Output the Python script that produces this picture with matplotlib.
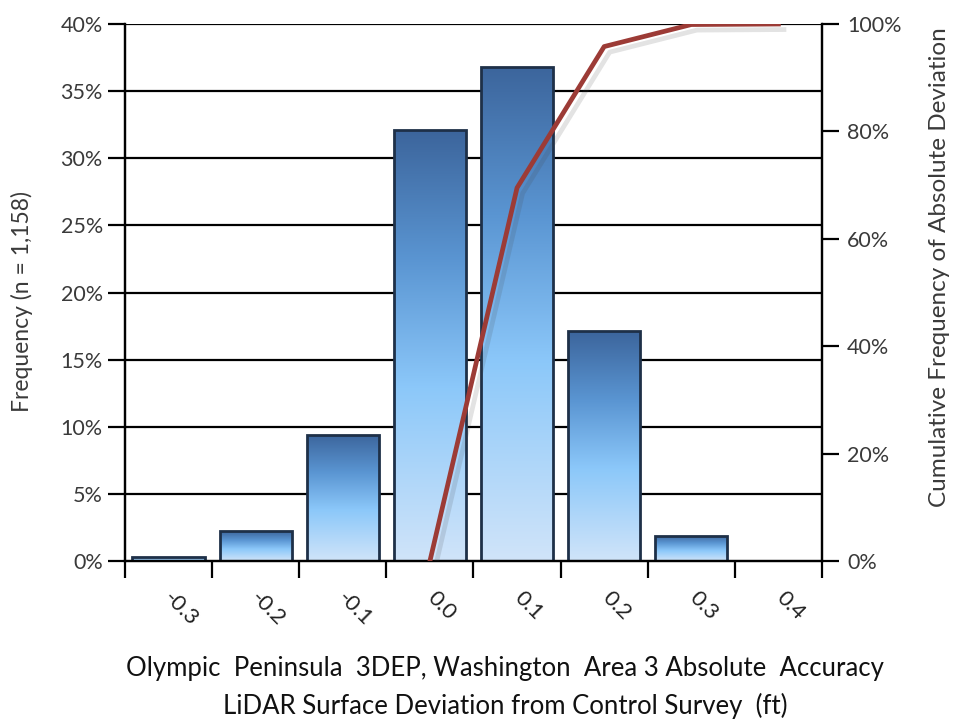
import numpy as np
import matplotlib
matplotlib.use("Agg")
import matplotlib.pyplot as plt
import matplotlib.patheffects as pe
import matplotlib.transforms as mtransforms
from matplotlib.colors import LinearSegmentedColormap
from matplotlib.ticker import FuncFormatter, MultipleLocator

plt.rcParams['font.family'] = ['Lato', 'DejaVu Sans']

# data
bins = ['-0.3', '-0.2', '-0.1', '0.0', '0.1', '0.2', '0.3', '0.4']
freq = [0.3, 2.2, 9.4, 32.1, 36.8, 17.1, 1.9, 0.0]          # % of points
cum = [np.nan, np.nan, np.nan, 0.0, 69.5, 95.8, 99.9, 100.0]  # cumulative %

x_title = ('Olympic  Peninsula  3DEP, Washington  Area 3 Absolute  Accuracy\n'
           'LiDAR Surface Deviation from Control Survey  (ft)')

text_col = '#3a3a3a'
bar_cmap = LinearSegmentedColormap.from_list(
    'bars', [(0.0, '#d0e4f9'), (0.4, '#8cc8fa'), (0.7, '#5a95d2'), (1.0, '#3c659c')])

fig = plt.figure(figsize=(9.58, 7.21), dpi=100)
ax = fig.add_axes([0.1305, 0.2219, 0.7275, 0.7448])
ax2 = ax.twinx()

x = np.arange(len(bins))

# gridlines behind bars
for yv in np.arange(5, 41, 5):
    ax.axhline(yv, color='black', lw=1.6, zorder=0.5)

# bars with vertical gradient
grad = np.linspace(0, 1, 256).reshape(-1, 1)
bars = ax.bar(x, freq, width=0.83, facecolor='none', edgecolor='#1e3048',
              linewidth=2.0, zorder=3)
for b in bars:
    h = b.get_height()
    if h <= 0:
        continue
    x0 = b.get_x()
    w = b.get_width()
    im = ax.imshow(grad, cmap=bar_cmap, origin='lower', aspect='auto',
                   extent=[x0, x0 + w, 0, h], zorder=2, interpolation='bilinear')
    im.set_clip_path(b)
ax.set_xlim(-0.5, len(bins) - 0.5)
ax.set_ylim(0, 40)

# cumulative line
ax2.plot(x, cum, color='#9c3b36', lw=3.4, zorder=5,
         path_effects=[pe.SimpleLineShadow(offset=(4, -4), alpha=0.15, shadow_color='#444444'),
                       pe.Normal()])
ax2.set_ylim(0, 100)
ax2.set_xlim(-0.5, len(bins) - 0.5)

# axes styling
for a in (ax, ax2):
    a.spines['top'].set_visible(False)
    for s in ('left', 'right', 'bottom'):
        a.spines[s].set_linewidth(1.6)
        a.spines[s].set_color('black')

ax.yaxis.set_major_locator(MultipleLocator(5))
ax.yaxis.set_major_formatter(FuncFormatter(lambda v, p: f'{v:.0f}%'))
ax2.yaxis.set_major_locator(MultipleLocator(20))
ax2.yaxis.set_major_formatter(FuncFormatter(lambda v, p: f'{v:.0f}%'))

ax.tick_params(axis='y', length=12, width=1.6, labelsize=15.5, labelcolor=text_col, pad=4)
ax2.tick_params(axis='y', length=12, width=1.6, labelsize=15.5, labelcolor=text_col, pad=6)

# category axis: ticks at bin boundaries, labels at centres
ax.set_xticks(np.arange(-0.5, len(bins), 1.0))
ax.set_xticklabels([])
ax.set_xticks(x, minor=True)
ax.set_xticklabels(bins, minor=True, rotation=-45, ha='center', va='top',
                   fontsize=16, color='#222222')
ax.tick_params(axis='x', which='major', length=12, width=1.6)
ax.tick_params(axis='x', which='minor', length=0, pad=19)
offset = mtransforms.ScaledTranslation(12 / 100, 0, fig.dpi_scale_trans)
for lbl in ax.get_xticklabels(minor=True):
    lbl.set_transform(lbl.get_transform() + offset)

# axis titles
fig.text(22 / 958, 1 - 302 / 721, 'Frequency (n = 1,158)', rotation=90,
         ha='center', va='center', fontsize=16.5, color=text_col)
fig.text(940 / 958, 1 - 267 / 721, 'Cumulative Frequency of Absolute Deviation',
         rotation=90, ha='center', va='center', fontsize=17.5, color=text_col)

fig.text(0.527, 0.003, x_title, ha='center', va='bottom', fontsize=18.5,
         color='#111111', linespacing=1.55)

fig.savefig('out.png', dpi=100, facecolor='white')
